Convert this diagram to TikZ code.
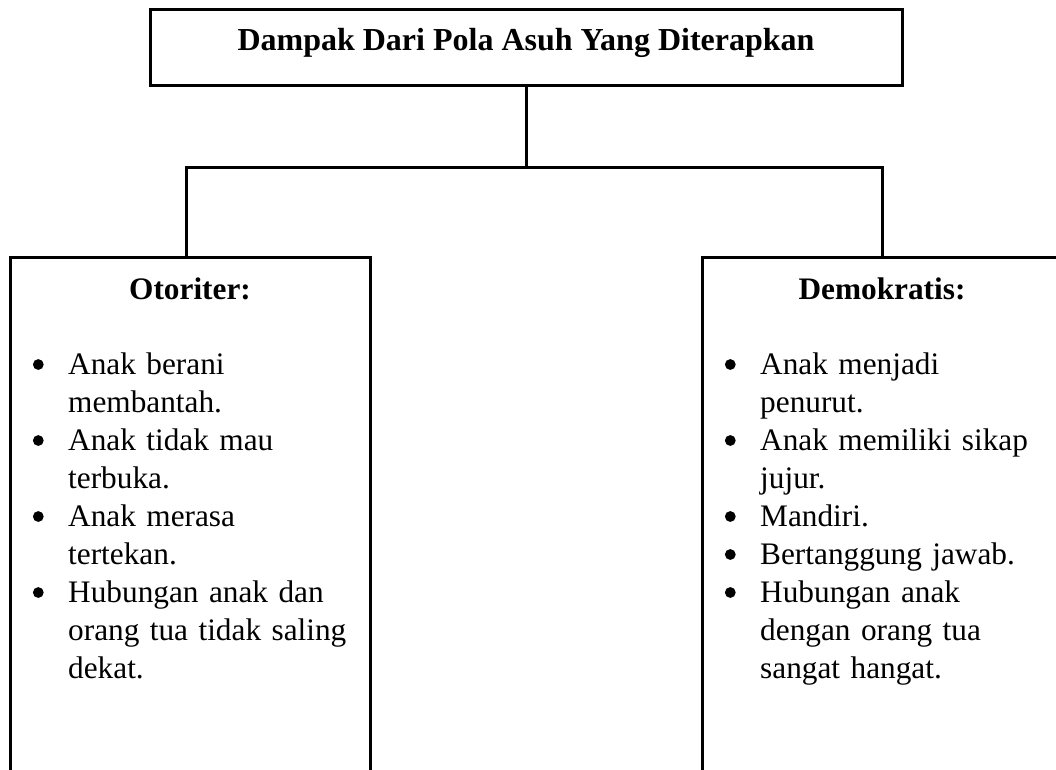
\documentclass[tikz,border=0pt]{standalone}
\usepackage{fontspec}
\setmainfont{Liberation Serif}
\usepackage{enumitem}
\usetikzlibrary{positioning}
\newcommand{\polabullet}{\tikz[baseline={(0pt,-9.5pt)}]\fill (0pt,0pt) circle (5.4pt);}
\setlist[itemize]{label=\polabullet, leftmargin=30pt, labelwidth=5pt,
    labelsep=24.5pt, itemsep=0pt, parsep=0pt, topsep=0pt, partopsep=0pt}
\newcommand{\polatext}{\fontsize{31.3}{38}\selectfont}
\newcommand{\polajudul}{\fontsize{32}{38}\selectfont\bfseries}
\tikzset{
    pola box/.style = {draw, line width=3pt, rectangle, inner sep=0pt},
    pola link/.style = {draw, line width=3pt, -},
    judul/.style = {anchor=base, inner sep=0pt, font=\polatext\bfseries},
    daftar/.style = {anchor=base west, inner sep=0pt, text width=320pt, align=left, font=\polatext},
}

\begin{document}
\begin{tikzpicture}[x=1pt, y=-1pt]
    \useasboundingbox (0,0) rectangle (1056,769);
    \clip (0,0) rectangle (1056,769);

    \node[pola box, minimum width=752pt, minimum height=76pt, text height=19pt, text depth=13pt,
        font=\polajudul] (dampak) at (526,47) {Dampak Dari Pola Asuh Yang Diterapkan};
    \node[pola box, minimum width=360pt, minimum height=543pt] (otoriter) at (190,528.5) {};
    \node[pola box, minimum width=360pt, minimum height=543pt] (demokratis) at (882,528.5) {};

    \node[judul] (judul oto) at (190,299) {Otoriter:};
    \node[judul] (judul demo) at (882,299) {Demokratis:};

    \node[daftar] (isi oto) at (38,336) {%
        \begin{itemize}
            \item Anak berani\newline membantah.
            \item Anak tidak mau\newline terbuka.
            \item Anak merasa\newline tertekan.
            \item Hubungan anak dan\newline orang tua tidak saling\newline dekat.
        \end{itemize}};
    \node[daftar] (isi demo) at (730,336) {%
        \begin{itemize}
            \item Anak menjadi\newline penurut.
            \item Anak memiliki sikap\newline jujur.
            \item Mandiri.
            \item Bertanggung jawab.
            \item Hubungan anak\newline dengan orang tua\newline sangat hangat.
        \end{itemize}};

    \draw[pola link] (dampak.south) -- ++(0,81) coordinate (cabang);
    \draw[pola link] ([xshift=-4pt]otoriter.north) |- (cabang) -| (demokratis.north);
\end{tikzpicture}
\end{document}
